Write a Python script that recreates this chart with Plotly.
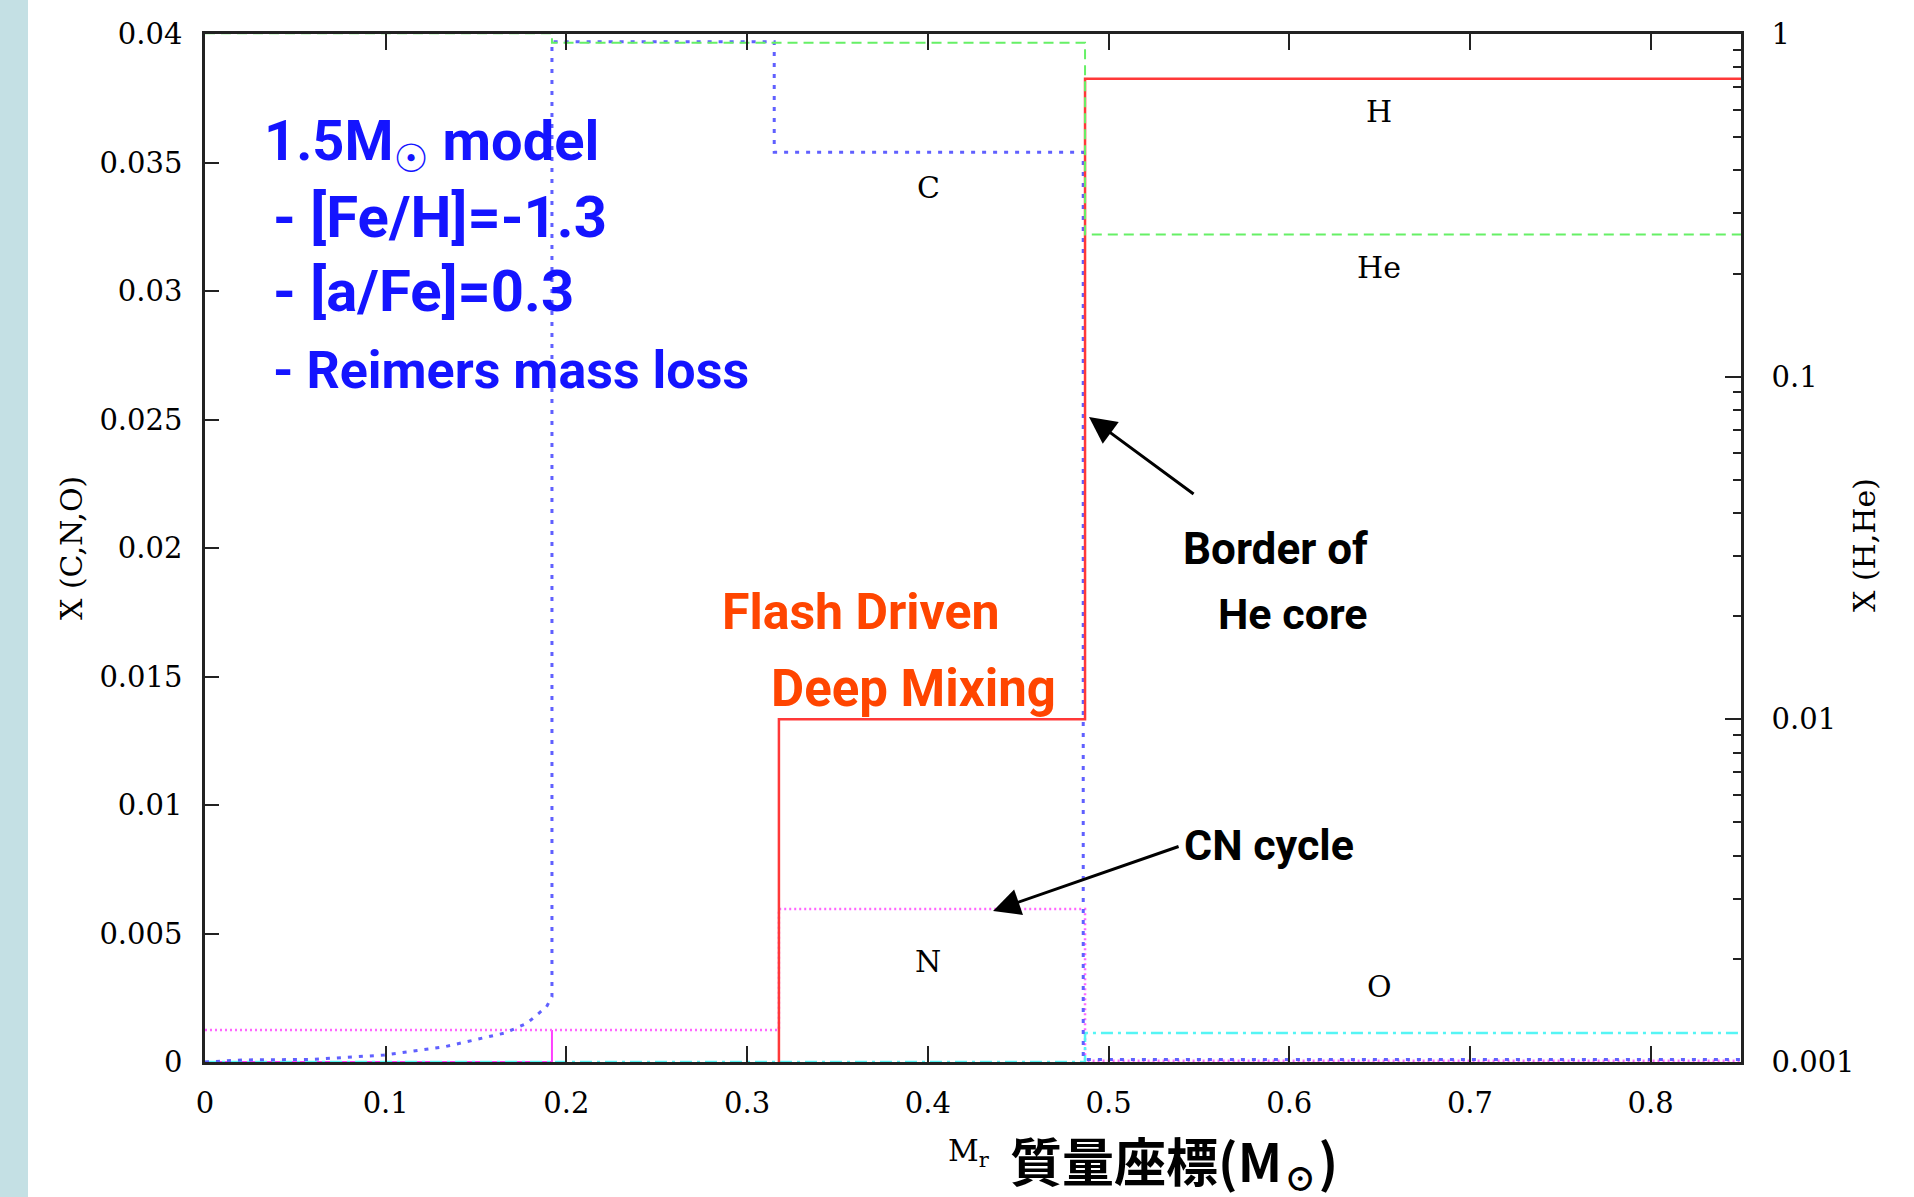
import plotly.graph_objects as go

# ---------------- data ----------------
# H mass fraction (right log axis), solid red
x_H = [0.0, 0.3176, 0.3176, 0.487, 0.487, 0.85]
y_H = [1e-5, 1e-5, 0.01, 0.01, 0.74, 0.74]

# He mass fraction (right log axis), green dashed (core value sits on the top frame)
x_He = [0.0, 0.192, 0.192, 0.487, 0.487, 0.85]
y_He = [1.005, 1.005, 0.943, 0.943, 0.26, 0.26]

# C mass fraction (left axis), blue dotted
x_C = [0.0, 0.021, 0.059, 0.099, 0.133, 0.166, 0.178, 0.189, 0.192, 0.192,
       0.315, 0.315, 0.486, 0.486, 0.85]
y_C = [0.0, 0.00008, 0.0001, 0.00027, 0.0006, 0.00113, 0.0015, 0.00215, 0.00254,
       0.0397, 0.0397, 0.0354, 0.0354, 0.0001, 0.0001]

# N mass fraction (left axis), magenta dotted
x_N = [0.0, 0.3176, 0.3176, 0.487, 0.487, 0.85]
y_N = [0.00125, 0.00125, 0.00595, 0.00595, 0.00005, 0.00005]

# short solid magenta step at the core edge (left axis)
x_Ns = [0.0, 0.192, 0.192]
y_Ns = [0.0, 0.0, 0.00125]

# O mass fraction (left axis), cyan dash-dot
x_O = [0.0, 0.487, 0.487, 0.85]
y_O = [0.0, 0.0, 0.00113, 0.00113]

# ticks
x_ticks = [0, 0.1, 0.2, 0.3, 0.4, 0.5, 0.6, 0.7, 0.8]
x_labels = ["0", "0.1", "0.2", "0.3", "0.4", "0.5", "0.6", "0.7", "0.8"]
y1_ticks = [0, 0.005, 0.01, 0.015, 0.02, 0.025, 0.03, 0.035, 0.04]
y1_labels = ["0", "0.005", "0.01", "0.015", "0.02", "0.025", "0.03", "0.035", "0.04"]
y2_ticks = [0.001, 0.01, 0.1, 1]
y2_labels = ["0.001", "0.01", "0.1", "1"]
y2_minor = [m * d for d in (0.001, 0.01, 0.1) for m in range(2, 10)]

# ---------------- layout helpers (pixel -> paper) ----------------
W, H = 1914, 1197
L, R, T, B = 205, 173, 34, 135
PW, PH = W - L - R, H - T - B


def px(x):
    return (x - L) / PW


def py(y):
    return (H - B - y) / PH


fig = go.Figure()

fig.add_trace(go.Scatter(x=x_H, y=y_H, yaxis="y2", mode="lines",
                         line=dict(color="#ff3838", width=2.5), name="H"))
fig.add_trace(go.Scatter(x=x_He, y=y_He, yaxis="y2", mode="lines",
                         line=dict(color="#66f066", width=2, dash="10px,6px"), name="He"))
fig.add_trace(go.Scatter(x=x_Ns, y=y_Ns, mode="lines",
                         line=dict(color="#ff40ff", width=2), name="N core"))
fig.add_trace(go.Scatter(x=x_N, y=y_N, mode="lines",
                         line=dict(color="#ff66ff", width=2.5, dash="2px,3px"), name="N"))
fig.add_trace(go.Scatter(x=x_O, y=y_O, mode="lines",
                         line=dict(color="#55f5f5", width=2.5, dash="12px,5px,3px,5px"), name="O"))
fig.add_trace(go.Scatter(x=x_C, y=y_C, mode="lines",
                         line=dict(color="#6060ff", width=3, dash="4px,7px"), name="C"))

tickfont = dict(family="DejaVu Serif", size=29, color="black")
axcol = "#222222"

fig.update_layout(
    width=W, height=H,
    margin=dict(l=L, r=R, t=T, b=B),
    paper_bgcolor="white", plot_bgcolor="white",
    showlegend=False,
    xaxis=dict(range=[0, 0.85], tickmode="array", tickvals=x_ticks, ticktext=x_labels,
               ticks="inside", ticklen=16, tickwidth=2, tickcolor=axcol,
               showline=True, linewidth=2.5, linecolor=axcol, mirror="ticks",
               showgrid=False, zeroline=False, tickfont=tickfont, ticklabelstandoff=13),
    yaxis=dict(range=[0, 0.04], tickmode="array", tickvals=y1_ticks, ticktext=y1_labels,
               ticks="inside", ticklen=14, tickwidth=2, tickcolor=axcol,
               showline=True, linewidth=2.5, linecolor=axcol, mirror=False,
               showgrid=False, zeroline=False, tickfont=tickfont, ticklabelstandoff=14),
    yaxis2=dict(overlaying="y", side="right", type="log", range=[-3, 0],
                tickmode="array", tickvals=y2_ticks, ticktext=y2_labels,
                ticks="inside", ticklen=16, tickwidth=2, tickcolor=axcol,
                minor=dict(tickmode="array", tickvals=y2_minor, ticks="inside",
                           ticklen=8, tickwidth=2, tickcolor=axcol),
                showline=True, linewidth=2.5, linecolor=axcol,
                showgrid=False, zeroline=False, tickfont=tickfont, ticklabelstandoff=22),
)

# left light-teal strip
fig.add_shape(type="rect", xref="paper", yref="paper", x0=px(0), x1=px(28),
              y0=py(H), y1=py(0), fillcolor="#c4e0e4", line=dict(width=0), layer="below")

ann = []
comic = "Roboto, 'DejaVu Sans', sans-serif"
blue = "#1414ff"
orange = "#ff4500"

# model description
model_lines = [("1.5M<sub>☉</sub> model", 262, 145, 56),
               ("- [Fe/H]=-1.3", 271, 217, 58),
               ("- [a/Fe]=0.3", 271, 291, 58),
               ("- Reimers mass loss", 271, 371, 52)]
for txt, xx, yy, fs in model_lines:
    ann.append(dict(text=txt, xref="paper", yref="paper", x=px(xx), y=py(yy),
                    xanchor="left", yanchor="middle", showarrow=False,
                    font=dict(family=comic, size=fs, color=blue, weight="bold")))

ann.append(dict(text="Flash Driven", xref="paper", yref="paper", x=px(720), y=py(612),
                xanchor="left", yanchor="middle", showarrow=False,
                font=dict(family=comic, size=50, color=orange, weight="bold")))
ann.append(dict(text="Deep Mixing", xref="paper", yref="paper", x=px(769), y=py(688),
                xanchor="left", yanchor="middle", showarrow=False,
                font=dict(family=comic, size=51, color=orange, weight="bold")))

ann.append(dict(text="Border of", xref="paper", yref="paper", x=px(1370), y=py(549),
                xanchor="right", yanchor="middle", showarrow=False,
                font=dict(family=comic, size=44, color="black", weight="bold")))
ann.append(dict(text="He core", xref="paper", yref="paper", x=px(1370), y=py(614),
                xanchor="right", yanchor="middle", showarrow=False,
                font=dict(family=comic, size=43, color="black", weight="bold")))
ann.append(dict(text="CN cycle", xref="paper", yref="paper", x=px(1182), y=py(845),
                xanchor="left", yanchor="middle", showarrow=False,
                font=dict(family=comic, size=43, color="black", weight="bold")))

# element labels
serif = dict(family="DejaVu Serif", size=30, color="black")
for txt, xx, yy in [("C", 928, 187), ("N", 928, 961), ("H", 1379, 112),
                    ("He", 1379, 267), ("O", 1379, 986)]:
    ann.append(dict(text=txt, xref="paper", yref="paper", x=px(xx), y=py(yy),
                    xanchor="center", yanchor="middle", showarrow=False, font=serif))

# arrows
ann.append(dict(text="", x=0.4892, y=0.0251, ax=0.5479, ay=0.02206,
                xref="x", yref="y", axref="x", ayref="y", showarrow=True,
                arrowhead=2, arrowsize=1.8, arrowwidth=3, arrowcolor="black", standoff=0))
ann.append(dict(text="", x=0.4361, y=0.005875, ax=0.5396, ay=0.008405,
                xref="x", yref="y", axref="x", ayref="y", showarrow=True,
                arrowhead=2, arrowsize=1.8, arrowwidth=3, arrowcolor="black", standoff=0))

# axis titles
ann.append(dict(text="X (C,N,O)", xref="paper", yref="paper", x=px(71), y=py(548),
                textangle=-90, xanchor="center", yanchor="middle", showarrow=False,
                font=dict(family="DejaVu Serif", size=30, color="black")))
ann.append(dict(text="X (H,He)", xref="paper", yref="paper", x=px(1864), y=py(545),
                textangle=-90, xanchor="center", yanchor="middle", showarrow=False,
                font=dict(family="DejaVu Serif", size=30, color="black")))
ann.append(dict(text="M<sub>r</sub>", xref="paper", yref="paper", x=px(946), y=py(1152),
                xanchor="left", yanchor="middle", showarrow=False,
                font=dict(family="DejaVu Serif", size=30, color="black")))
ann.append(dict(text="質量座標(M<sub>☉</sub>)", xref="paper", yref="paper", x=px(1008), y=py(1162),
                xanchor="left", yanchor="middle", showarrow=False,
                font=dict(family="Noto Sans CJK JP", size=52, color="black", weight="bold")))

fig.update_layout(annotations=ann)

fig.write_html("out.html")
